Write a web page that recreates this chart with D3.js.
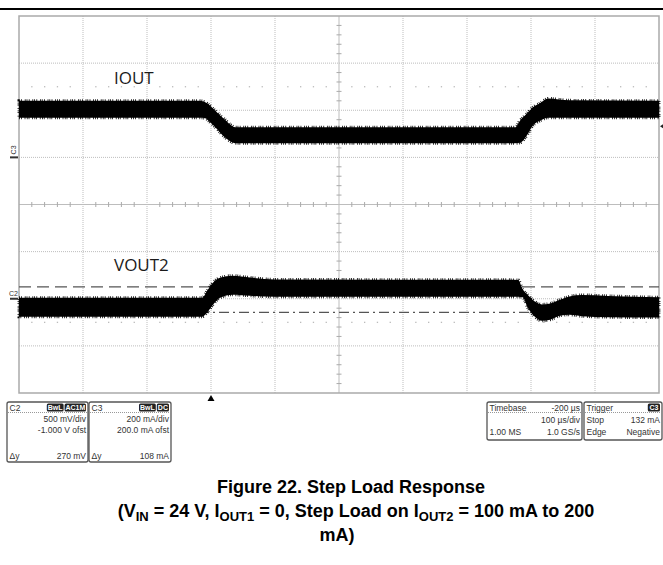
<!DOCTYPE html>
<html>
<head>
<meta charset="utf-8">
<script src="https://cdn.jsdelivr.net/npm/d3@7"></script>
<style>
  html, body { margin: 0; padding: 0; background: #fff; }
  svg { display: block; }
</style>
</head>
<body>
<svg id="chart" width="663" height="565"></svg>
<script>
// time axis: 100 us/div, trigger at t = 0
const timeDomain = [-300, 700];

// IOUT (C3, mA) envelope of the noisy band
const ioutT   = [-300, -17, -9, -2, 6, 14, 22, 30, 38, 475, 483, 494, 503, 514, 527, 560, 700];
const ioutTop = [240, 240, 234, 221, 200, 179, 160, 140, 128, 128, 157, 187, 213, 230, 250, 242, 240];
const ioutBot = [168, 168, 166, 150, 130, 106, 84, 68, 60, 60, 62, 95, 135, 155, 168, 168, 168];

// VOUT2 (C2, mV about marker) envelope of the noisy band
const voutT   = [-300, -14, -5, 3, 14, 34, 61, 100, 480, 487, 495, 506, 517, 530, 545, 560, 580, 620, 700];
const voutTop = [11, 11, 96, 170, 223, 245, 225, 205, 200, 100, 40, -30, -60, -50, -10, 25, 40, 30, 15];
const voutBot = [-191, -191, -138, -64, 11, 43, 32, 21, 21, 15, -96, -191, -234, -223, -181, -170, -185, -195, -200];

// cursors (mV) and trigger level (mA)
const cursorHigh = 125;
const cursorLow = -145;
const triggerLevel = 132;

// scope grid
const divX = d3.range(0, 11);
const divY = d3.range(0, 9);
const dotRows = [1.5, 6.5];

const svg = d3.select('#chart');
const plot = { left: 19, right: 659, top: 16, bottom: 393 };

const gx = d3.scaleLinear().domain([0, 10]).range([plot.left, plot.right]);
const gy = d3.scaleLinear().domain([0, 8]).range([plot.top, plot.bottom]);
const x = d3.scaleLinear().domain(timeDomain).range([plot.left, plot.right]);
// 200 mA/div, zero 3 div below top
const yI = d3.scaleLinear().domain([-1000, 600]).range([plot.bottom, plot.top]);
// 500 mV/div, marker 6 div below top
const yV = d3.scaleLinear().domain([-1000, 3000]).range([plot.bottom, plot.top]);

// top rule
svg.append('line')
    .attr('x1', 0).attr('x2', 663).attr('y1', 9).attr('y2', 9)
    .attr('stroke', '#000').attr('stroke-width', 2);

// grid
const grid = svg.append('g');
grid.selectAll('.vg').data(divX.filter(d => d > 0 && d < 10 && d !== 5)).enter().append('line')
    .attr('x1', d => gx(d)).attr('x2', d => gx(d))
    .attr('y1', plot.top).attr('y2', plot.bottom)
    .attr('stroke', '#bdbdbd').attr('stroke-dasharray', '1,1');
grid.selectAll('.hg').data(divY.filter(d => d > 0 && d < 8 && d !== 4)).enter().append('line')
    .attr('x1', plot.left).attr('x2', plot.right)
    .attr('y1', d => gy(d)).attr('y2', d => gy(d))
    .attr('stroke', '#bdbdbd').attr('stroke-dasharray', '1,1');

// centre axes with minor ticks
grid.append('line')
    .attr('x1', gx(5)).attr('x2', gx(5)).attr('y1', plot.top).attr('y2', plot.bottom)
    .attr('stroke', '#bdbdbd');
grid.append('line')
    .attr('x1', plot.left).attr('x2', plot.right).attr('y1', gy(4)).attr('y2', gy(4))
    .attr('stroke', '#bdbdbd');
const minorX = d3.range(1, 50).filter(d => d % 5 !== 0).map(d => d / 5);
const minorY = d3.range(1, 40).filter(d => d % 5 !== 0).map(d => d / 5);
grid.selectAll('.tx').data(minorX).enter().append('line')
    .attr('x1', d => gx(d)).attr('x2', d => gx(d))
    .attr('y1', gy(4) - 2.5).attr('y2', gy(4) + 2.5)
    .attr('stroke', '#aaa');
grid.selectAll('.ty').data(minorY).enter().append('line')
    .attr('x1', gx(5) - 2.5).attr('x2', gx(5) + 2.5)
    .attr('y1', d => gy(d)).attr('y2', d => gy(d))
    .attr('stroke', '#aaa');

// dotted rows
dotRows.forEach(r => {
    grid.selectAll(null).data(minorX).enter().append('rect')
        .attr('x', d => gx(d) - 0.6).attr('y', gy(r) - 0.6)
        .attr('width', 1.3).attr('height', 1.3)
        .attr('fill', '#bbb');
});

// border
svg.append('rect')
    .attr('x', plot.left).attr('y', plot.top)
    .attr('width', plot.right - plot.left).attr('height', plot.bottom - plot.top)
    .attr('fill', 'none').attr('stroke', '#aaa').attr('stroke-width', 1.5);

// cursors on VOUT2
svg.append('line')
    .attr('x1', plot.left).attr('x2', plot.right)
    .attr('y1', yV(cursorHigh)).attr('y2', yV(cursorHigh))
    .attr('stroke', '#555').attr('stroke-width', 1.3).attr('stroke-dasharray', '12,6');
svg.append('line')
    .attr('x1', plot.left).attr('x2', plot.right)
    .attr('y1', yV(cursorLow)).attr('y2', yV(cursorLow))
    .attr('stroke', '#555').attr('stroke-width', 1.3).attr('stroke-dasharray', '10,4,2,4');

// traces as filled envelopes
function drawBand(ts, tops, bots, yScale) {
    const rows = ts.map((t, i) => ({ t, hi: tops[i], lo: bots[i] }));
    const area = d3.area()
        .x(d => x(d.t))
        .y0(d => yScale(d.lo))
        .y1(d => yScale(d.hi))
        .curve(d3.curveMonotoneX);
    svg.append('path')
        .datum(rows)
        .attr('d', area)
        .attr('fill', '#000')
        .attr('stroke', '#000')
        .attr('stroke-width', 3)
        .attr('stroke-dasharray', '0.8,1.4,0.8,2.8,0.8,1');
}
drawBand(ioutT, ioutTop, ioutBot, yI);
drawBand(voutT, voutTop, voutBot, yV);

// labels
svg.append('text').attr('x', 114).attr('y', 84)
    .attr('font-family', 'Open Sans, sans-serif').attr('font-size', 17)
    .attr('fill', '#1a1a1a').text('IOUT');
svg.append('text').attr('x', 114).attr('y', 271)
    .attr('font-family', 'Open Sans, sans-serif').attr('font-size', 17)
    .attr('fill', '#1a1a1a').text('VOUT2');

// channel markers
svg.append('rect').attr('x', 10).attr('y', yI(0) - 1).attr('width', 8).attr('height', 2).attr('fill', '#333');
svg.append('text')
    .attr('transform', `translate(16, ${yI(0) - 3}) rotate(-90)`)
    .attr('font-family', 'Liberation Sans, Arial, sans-serif').attr('font-size', 7)
    .attr('fill', '#333').text('C3');
svg.append('rect').attr('x', 10).attr('y', yV(0) - 1).attr('width', 8).attr('height', 2).attr('fill', '#333');
svg.append('text').attr('x', 9).attr('y', yV(0) - 3)
    .attr('font-family', 'Liberation Sans, Arial, sans-serif').attr('font-size', 7)
    .attr('fill', '#333').text('C2');

// trigger level marker on right edge
svg.append('path')
    .attr('d', `M${plot.right + 1},${yI(triggerLevel)} l3,-2 l0,4 z`)
    .attr('fill', '#222');

// trigger position marker
svg.append('path')
    .attr('d', `M${x(0)},${plot.bottom + 2} l-3.5,6 l7,0 z`)
    .attr('fill', '#000');

// info boxes
const font = 'Liberation Sans, Arial, sans-serif';
function infoBox(bx, by, bw, bh, header, headerRight, badges, rows) {
    const g = svg.append('g');
    g.append('rect').attr('x', bx).attr('y', by).attr('width', bw).attr('height', bh)
        .attr('rx', 2).attr('fill', '#fff').attr('stroke', '#555').attr('stroke-width', 1.3);
    g.append('line').attr('x1', bx + 1).attr('x2', bx + bw - 1)
        .attr('y1', by + 10.5).attr('y2', by + 10.5)
        .attr('stroke', '#999').attr('stroke-dasharray', '1,1');
    g.append('text').attr('x', bx + 2.5).attr('y', by + 8.5)
        .attr('font-family', font).attr('font-size', 8.5).attr('fill', '#333').text(header);
    if (headerRight) {
        g.append('text').attr('x', bx + bw - 2).attr('y', by + 8.5).attr('text-anchor', 'end')
            .attr('font-family', font).attr('font-size', 8.5).attr('fill', '#333').text(headerRight);
    }
    let right = bx + bw - 2;
    badges.slice().reverse().forEach(b => {
        const w = b.length * 4.6 + 3;
        g.append('rect').attr('x', right - w).attr('y', by + 1.5).attr('width', w).attr('height', 8)
            .attr('rx', 1.5).attr('fill', '#222');
        g.append('text').attr('x', right - w / 2).attr('y', by + 8.2).attr('text-anchor', 'middle')
            .attr('font-family', font).attr('font-size', 7).attr('font-weight', 'bold')
            .attr('fill', '#fff').text(b);
        right -= w + 1;
    });
    rows.forEach(r => {
        if (r.left) g.append('text').attr('x', bx + 2.5).attr('y', by + r.dy)
            .attr('font-family', font).attr('font-size', 8.5).attr('fill', '#333').text(r.left);
        if (r.right) g.append('text').attr('x', bx + bw - 2).attr('y', by + r.dy).attr('text-anchor', 'end')
            .attr('font-family', font).attr('font-size', 8.5).attr('fill', '#333').text(r.right);
    });
}

infoBox(7, 402, 81, 60, 'C2', null, ['BwL', 'AC1M'], [
    { right: '500 mV/div', dy: 20 },
    { right: '-1.000 V ofst', dy: 31 },
    { left: 'Δy', right: '270 mV', dy: 57 }
]);
infoBox(89, 402, 82, 60, 'C3', null, ['BwL', 'DC'], [
    { right: '200 mA/div', dy: 20 },
    { right: '200.0 mA ofst', dy: 31 },
    { left: 'Δy', right: '108 mA', dy: 57 }
]);
infoBox(487, 402, 95, 38, 'Timebase', '-200 µs', [], [
    { right: '100 µs/div', dy: 21 },
    { left: '1.00 MS', right: '1.0 GS/s', dy: 33 }
]);
infoBox(584, 402, 78, 38, 'Trigger', null, ['C3'], [
    { left: 'Stop', right: '132 mA', dy: 21 },
    { left: 'Edge', right: 'Negative', dy: 33 }
]);

// caption
const cap = svg.append('g')
    .attr('font-family', 'Liberation Sans, Arial, sans-serif')
    .attr('font-weight', 'bold').attr('font-size', 18).attr('fill', '#000')
    .attr('text-anchor', 'middle');
cap.append('text').attr('x', 351).attr('y', 493).text('Figure 22. Step Load Response');
const l2 = cap.append('text').attr('x', 356).attr('y', 517);
l2.append('tspan').text('(V');
l2.append('tspan').attr('font-size', 13).attr('dy', 4).text('IN');
l2.append('tspan').attr('dy', -4).text(' = 24 V, I');
l2.append('tspan').attr('font-size', 13).attr('dy', 4).text('OUT1');
l2.append('tspan').attr('dy', -4).text(' = 0, Step Load on I');
l2.append('tspan').attr('font-size', 13).attr('dy', 4).text('OUT2');
l2.append('tspan').attr('dy', -4).text(' = 100 mA to 200');
cap.append('text').attr('x', 337).attr('y', 541).text('mA)');
</script>
</body>
</html>
